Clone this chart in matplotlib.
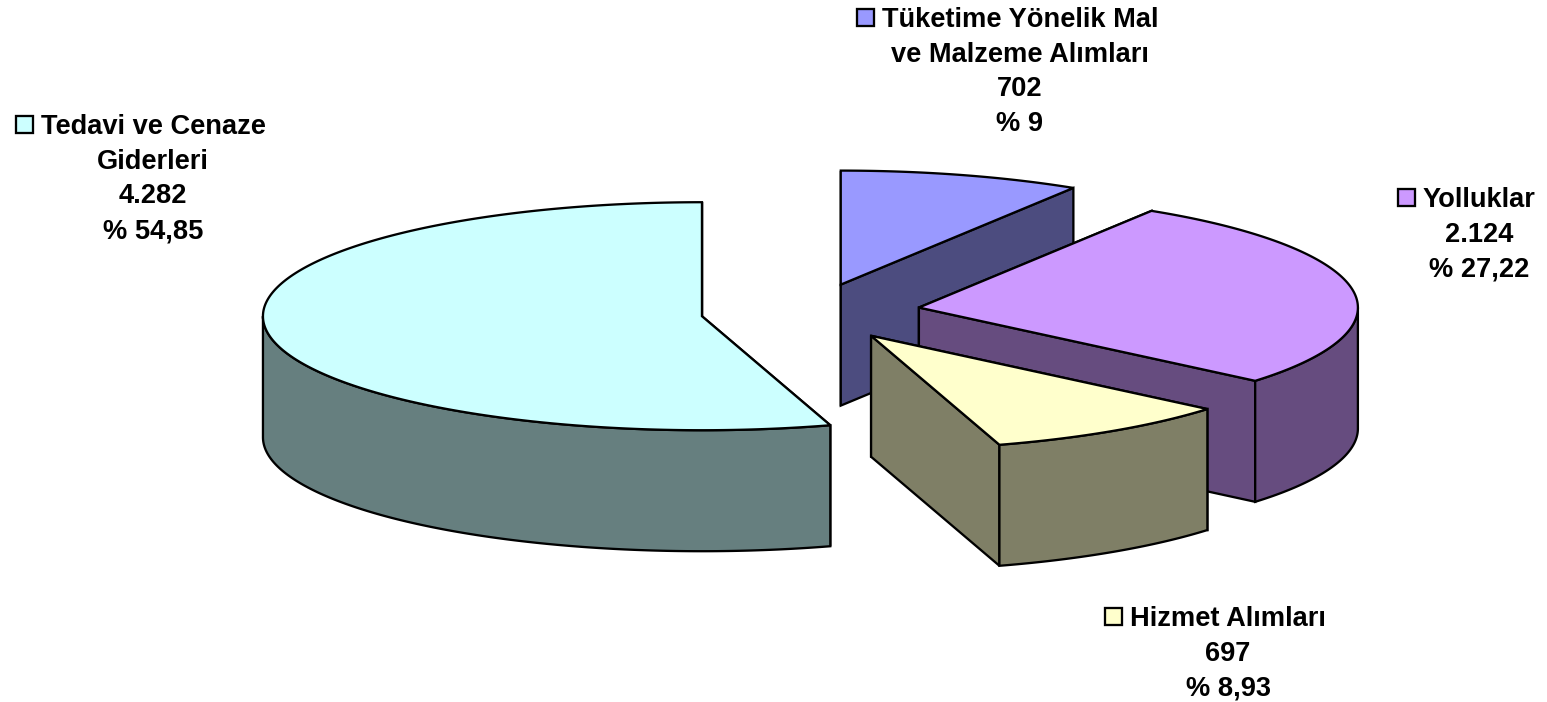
import numpy as np
import matplotlib
matplotlib.use("Agg")
import matplotlib.pyplot as plt
from matplotlib.patches import Polygon, Rectangle

# Data, in drawing order (clockwise from 12 o'clock)
categories = ["Tüketime Yönelik Mal\nve Malzeme Alımları", "Yolluklar", "Hizmet Alımları", "Tedavi ve Cenaze\nGiderleri"]
values = ["702", "2.124", "697", "4.282"]
percents = [9.0, 27.22, 8.93, 54.85]
percent_labels = ["% 9", "% 27,22", "% 8,93", "% 54,85"]
top_colors = ["#9999FF", "#CC99FF", "#FFFFCC", "#CCFFFF"]
wall_colors = ["#4C4C7F", "#664C7F", "#7F7F66", "#667F7F"]

# Layout (pixels)
W, H = 1547, 702
CX, CY = 810.5, 312.0
RX, RY, DEPTH = 439.0, 114.0, 121.0
EXPLODE = 0.25
LW = 1.65
FONT = 19.6
LINE_STEP = 34.7
# label centre x, first-line y
label_pos = [(1020, 17), (1479, 197), (1228, 616), (153, 124)]
key_gap = 8
key_size = 17

fig = plt.figure(figsize=(W / 100, H / 100), dpi=100)
ax = fig.add_axes([0, 0, 1, 1])
ax.set_xlim(0, W)
ax.set_ylim(H, 0)
ax.axis("off")


def arc(cx, cy, t0, t1, dy=0.0):
    t = np.radians(np.linspace(t0, t1, max(int(abs(t1 - t0) * 2), 2)))
    return np.column_stack([cx + RX * np.sin(t), cy - RY * np.cos(t) + dy])


def poly(pts, fc, z):
    ax.add_patch(Polygon(pts, closed=True, facecolor=fc, edgecolor="black",
                         linewidth=LW, joinstyle="miter", zorder=z))


shares = np.array(percents)
edges = np.round(np.concatenate([[0], np.cumsum(shares)]) / shares.sum() * 360.0)  # whole degrees
z = 1
for i, (top, wall) in enumerate(zip(top_colors, wall_colors)):
    t0, t1 = edges[i], edges[i + 1]
    mid = np.radians((t0 + t1) / 2)
    cx = CX + EXPLODE * RX * np.sin(mid)
    cy = CY - EXPLODE * RY * np.cos(mid)
    apex = np.array([cx, cy])
    down = np.array([0, DEPTH])
    for t in (t0, t1):  # cut faces
        e = arc(cx, cy, t, t + 1e-6)[0]
        poly([apex, e, e + down, apex + down], wall, z)
        z += 1
    a, b = max(t0, 90.0), min(t1, 270.0)
    if b > a:  # visible outer wall
        upper = arc(cx, cy, a, b)
        lower = arc(cx, cy, a, b, DEPTH)[::-1]
        poly(np.vstack([upper, lower]), wall, z)
        z += 1
    poly(np.vstack([apex, arc(cx, cy, t0, t1)]), top, z)
    z += 1

renderer = fig.canvas.get_renderer()
for cat, val, pct, top, (xc, y0) in zip(categories, values, percent_labels, top_colors, label_pos):
    lines = cat.split("\n") + [val, pct]
    for i, line in enumerate(lines):
        tx = ax.text(xc, y0 + i * LINE_STEP, line, ha="center", va="center_baseline",
                     fontsize=FONT, fontweight="bold", family="Liberation Sans", color="black", zorder=100)
        if i == 0:
            bb = tx.get_window_extent(renderer)
            ax.add_patch(Rectangle((bb.x0 - key_gap - key_size, y0 - key_size / 2), key_size, key_size,
                                   facecolor=top, edgecolor="black", linewidth=LW, zorder=100))

fig.savefig("out.png", dpi=100, facecolor="white")
